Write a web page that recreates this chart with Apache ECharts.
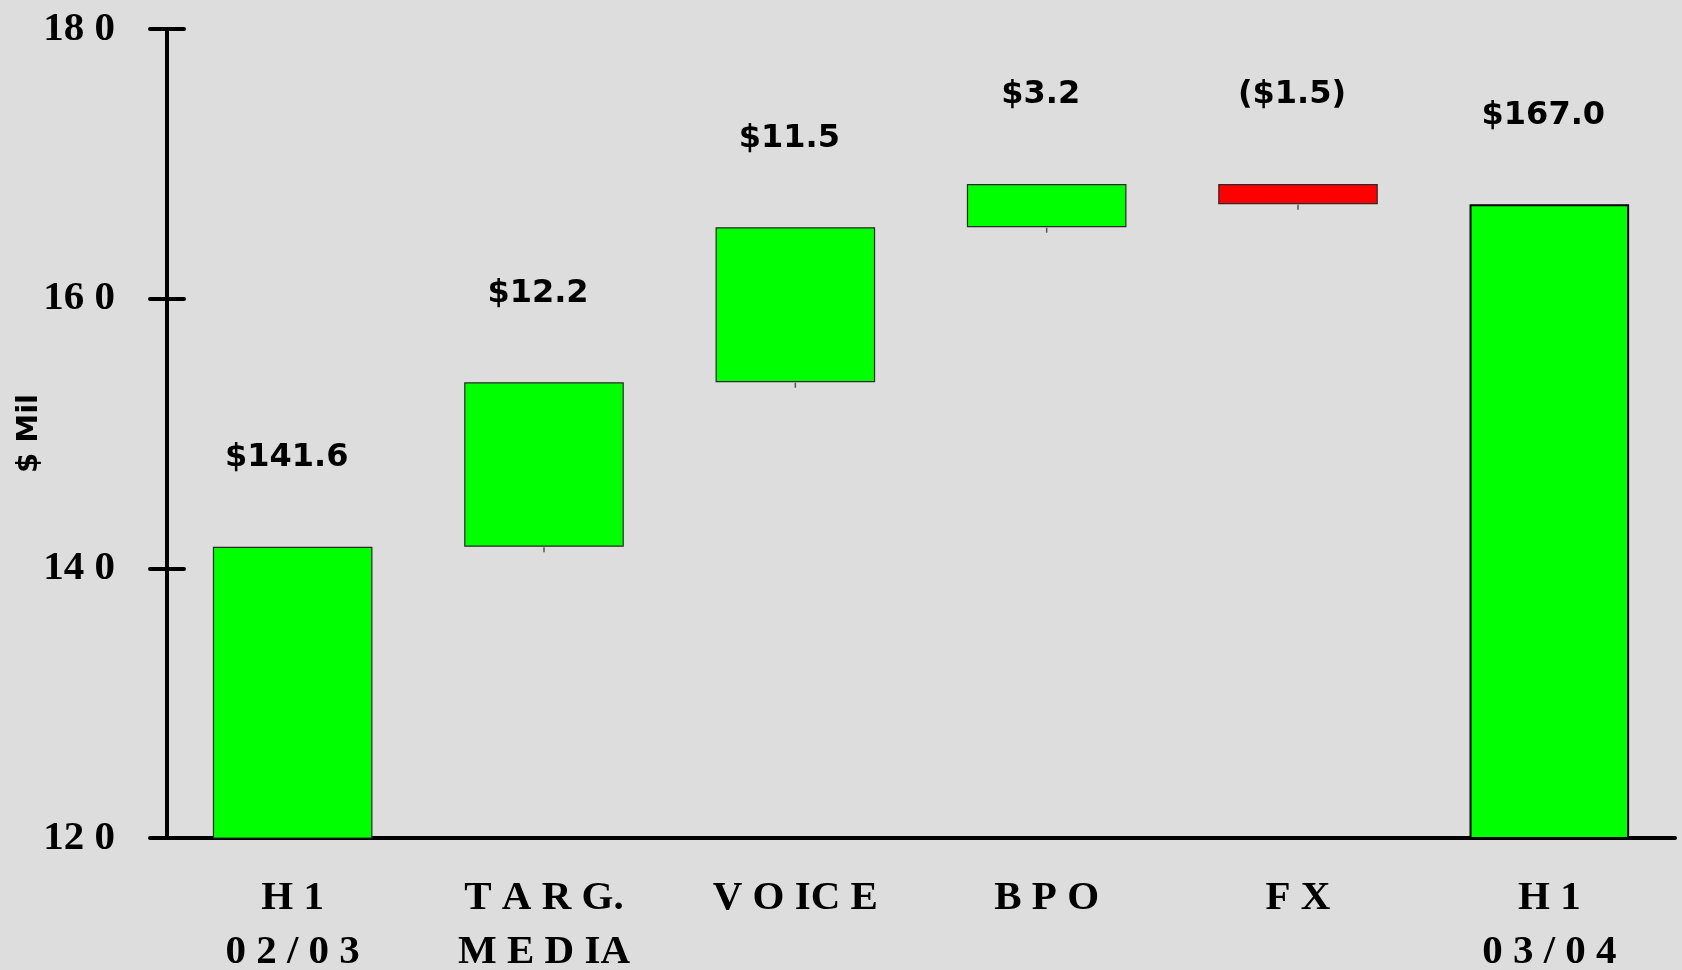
<!DOCTYPE html>
<html>
<head>
<meta charset="utf-8">
<title>H1 revenue bridge</title>
<script src="https://cdn.jsdelivr.net/npm/echarts@6/dist/echarts.min.js"></script>
<style>
  html, body { margin: 0; padding: 0; background: #dddddd; }
  #chart { width: 1682px; height: 970px; }
</style>
</head>
<body>
<div id="chart"></div>
<script>
// Bridge steps from H1 02/03 revenue to H1 03/04 revenue ($ Mil)
const categories = ['H 1\n0 2 / 0 3', 'T A R G.\nM E D IA', 'V O IC E', 'B P O', 'F X', 'H 1\n0 3 / 0 4'];
const changes = [141.6, 12.2, 11.5, 3.2, -1.5, 167.0];
const isTotal = [true, false, false, false, false, true];
const yTickLabels = { 120: '12 0', 140: '14 0', 160: '16 0', 180: '18 0' };

// Floating bars: an invisible base plus a visible segment for each step
const baseData = [];
const segData = [];
let running = 0;
changes.forEach((v, i) => {
  if (isTotal[i]) {
    baseData.push(0);
    segData.push({ value: v, delta: v });
    running = v;
  } else {
    const end = running + v;
    baseData.push(Math.min(running, end));
    segData.push({ value: Math.abs(v), delta: v });
    running = end;
  }
});

// Small stub marks hanging under each floating step
const stubData = baseData.map((b, i) => (isTotal[i] ? null : [i, b]));

const fmtMoney = v => (v < 0 ? '($' + Math.abs(v).toFixed(1) + ')' : '$' + v.toFixed(1));

const serifLabel = {
  fontFamily: 'Liberation Serif',
  fontWeight: 'bold',
  fontSize: 41,
  color: '#000'
};

const chart = echarts.init(document.getElementById('chart'), null, { renderer: 'canvas' });
chart.setOption({
  backgroundColor: '#dddddd',
  animation: false,
  grid: { left: 167, right: 7, top: 29, bottom: 132, containLabel: false, outerBoundsMode: 'none' },
  xAxis: [
    {
      type: 'category',
      data: categories,
      position: 'bottom',
      axisLine: { lineStyle: { color: '#000', width: 4, cap: 'round' } },
      axisTick: { alignWithLabel: false, length: 15, lineStyle: { color: '#000', width: 4, cap: 'round' } },
      axisLabel: Object.assign({ margin: 33, lineHeight: 54, interval: 0 }, serifLabel),
      splitLine: { show: false }
    },
    {
      type: 'category',
      data: categories,
      position: 'bottom',
      axisLine: { show: false },
      axisTick: { inside: true, length: 15, lineStyle: { color: '#000', width: 4, cap: 'round' } },
      axisLabel: { show: false },
      splitLine: { show: false }
    }
  ],
  yAxis: [
    {
      type: 'value',
      min: 120,
      max: 180,
      interval: 20,
      position: 'left',
      name: '$ Mil',
      nameLocation: 'middle',
      nameRotate: 90,
      nameGap: 123,
      nameMoveOverlap: false,
      nameTextStyle: { fontFamily: 'DejaVu Sans', fontWeight: 'bold', fontSize: 29, color: '#000' },
      axisLine: { show: true, lineStyle: { color: '#000', width: 4, cap: 'round' } },
      axisTick: { show: true, length: 17, lineStyle: { color: '#000', width: 4, cap: 'round' } },
      axisLabel: Object.assign({ margin: 52, formatter: v => yTickLabels[v] || String(v) }, serifLabel),
      splitLine: { show: false }
    },
    {
      type: 'value',
      min: 120,
      max: 180,
      interval: 20,
      position: 'left',
      axisLine: { show: false },
      axisTick: { show: true, inside: true, length: 17, lineStyle: { color: '#000', width: 4, cap: 'round' } },
      axisLabel: { show: false },
      splitLine: { show: false }
    }
  ],
  series: [
    {
      name: 'base',
      type: 'bar',
      stack: 'bridge',
      xAxisIndex: 0,
      yAxisIndex: 0,
      barWidth: '63.5%',
      itemStyle: { color: 'transparent', borderWidth: 0 },
      emphasis: { disabled: true },
      silent: true,
      data: baseData
    },
    {
      name: 'change',
      type: 'bar',
      stack: 'bridge',
      xAxisIndex: 0,
      yAxisIndex: 0,
      barWidth: '63.5%',
      data: segData.map((d, i) => ({
        value: d.value,
        delta: d.delta,
        itemStyle: {
          color: d.delta < 0 ? '#ff0000' : '#00ff00',
          borderColor: i === categories.length - 1 ? '#000' : '#2a2a2a',
          borderWidth: i === categories.length - 1 ? 2 : 1.2
        }
      })),
      label: {
        show: true,
        position: 'top',
        distance: 73,
        offset: [-6, 0],
        fontFamily: 'DejaVu Sans',
        fontWeight: 'bold',
        fontSize: 32,
        color: '#000',
        formatter: p => fmtMoney(p.data.delta)
      }
    },
    {
      name: 'stub',
      type: 'scatter',
      xAxisIndex: 0,
      yAxisIndex: 0,
      symbol: 'rect',
      symbolSize: [1.5, 5],
      symbolOffset: [0, 3],
      itemStyle: { color: '#333' },
      silent: true,
      z: 1,
      data: stubData
    }
  ]
});
</script>
</body>
</html>
